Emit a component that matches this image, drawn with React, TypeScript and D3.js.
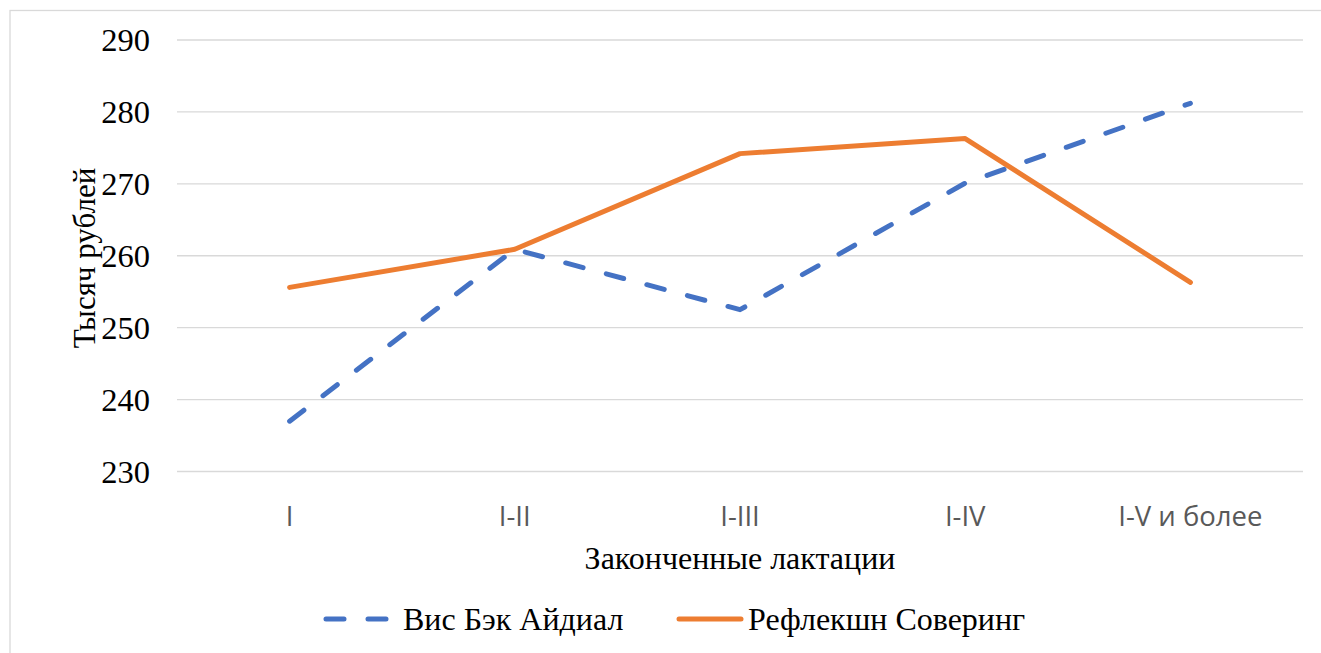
import React from "react";
import * as d3 from "d3";

const categories = ["I", "I-II", "I-III", "I-IV", "I-V и более"];
const seriesNames = ["Вис Бэк Айдиал", "Рефлекшн Соверинг"];
const visBek = [237.0, 260.9, 252.5, 270.1, 281.2];
const reflection = [255.6, 260.9, 274.2, 276.3, 256.3];
const yTicks = [230, 240, 250, 260, 270, 280, 290];

const W = 1321;
const H = 653;
const left = 177;
const right = 1303;
const top = 40;
const bottom = 471.5;

export default function App() {
  const x = d3.scaleBand<string>().domain(categories).range([left, right]);
  const y = d3.scaleLinear().domain([230, 290]).range([bottom, top]);
  const cx = (c: string) => (x(c) as number) + x.bandwidth() / 2;
  const line = d3
    .line<number>()
    .x((_, i) => cx(categories[i]))
    .y((d) => y(d));

  const serif = "'Liberation Serif', 'Times New Roman', serif";
  const sans = "'Open Sans', sans-serif";

  return (
    <svg
      width={W}
      height={H}
      style={{ position: "absolute", left: 0, top: 0, background: "#fff" }}
    >
      <rect x={10} y={10.5} width={W + 20} height={H + 20} fill="#fff" stroke="#d9d9d9" strokeWidth={1.3} />
      {yTicks.map((t) => (
        <g key={t}>
          <line x1={left} x2={right} y1={y(t)} y2={y(t)} stroke="#d9d9d9" strokeWidth={1.3} />
          <text
            x={150}
            y={y(t)}
            textAnchor="end"
            dominantBaseline="central"
            fontFamily={serif}
            fontSize={32.5}
            fill="#000"
          >
            {t}
          </text>
        </g>
      ))}
      {categories.map((c) => (
        <text
          key={c}
          x={cx(c)}
          y={515}
          textAnchor="middle"
          dominantBaseline="central"
          fontFamily={sans}
          fontSize={27.5}
          fill="#595959"
        >
          {c}
        </text>
      ))}
      <text
        x={740}
        y={558}
        textAnchor="middle"
        dominantBaseline="central"
        fontFamily={serif}
        fontSize={32}
        fill="#000"
      >
        Законченные лактации
      </text>
      <text
        transform={`translate(84, ${258}) rotate(-90)`}
        textAnchor="middle"
        dominantBaseline="central"
        fontFamily={serif}
        fontSize={31}
        fill="#000"
      >
        Тысяч рублей
      </text>
      <path
        d={line(reflection) || ""}
        fill="none"
        stroke="#ED7D31"
        strokeWidth={5}
        strokeLinejoin="round"
        strokeLinecap="round"
      />
      <path
        d={line(visBek) || ""}
        fill="none"
        stroke="#4472C4"
        strokeWidth={5}
        strokeDasharray="18 24"
        strokeLinejoin="round"
        strokeLinecap="round"
      />
      {/* legend */}
      <line x1={326} x2={388} y1={619} y2={619} stroke="#4472C4" strokeWidth={5} strokeDasharray="18 24" strokeLinecap="round" />
      <text x={403} y={619} dominantBaseline="central" fontFamily={serif} fontSize={32} fill="#000">
        {seriesNames[0]}
      </text>
      <line x1={679} x2={741} y1={619} y2={619} stroke="#ED7D31" strokeWidth={5} strokeLinecap="round" />
      <text x={748} y={619} dominantBaseline="central" fontFamily={serif} fontSize={32} fill="#000">
        {seriesNames[1]}
      </text>
    </svg>
  );
}
